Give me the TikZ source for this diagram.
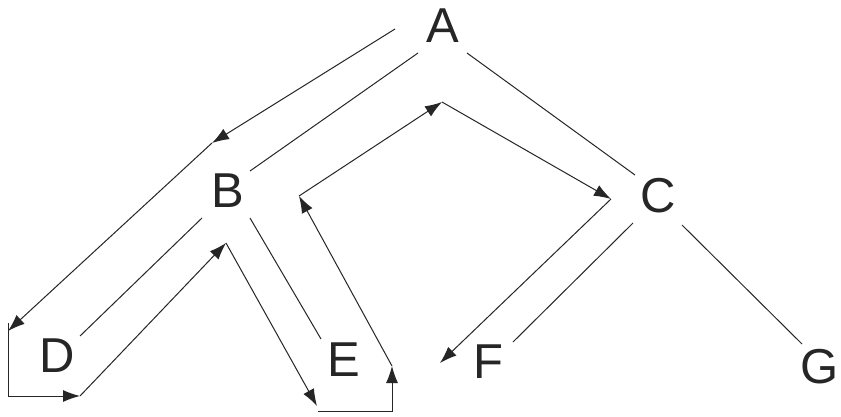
\documentclass[tikz,border=0pt]{standalone}
\usepackage{fontspec}
\setmainfont{Liberation Sans}
\usetikzlibrary{arrows.meta}
\begin{document}
\begin{tikzpicture}[x=1pt,y=-1pt,
  lbl/.style={inner sep=0pt,font=\fontsize{49}{49}\selectfont,text=black!85},
  edge/.style={line width=1pt,draw=black!85},
  arr/.style={line width=1pt,draw=black!85,-{Latex[length=17pt,width=12pt]}},
  seg/.style={line width=1pt,draw=black!85}]
\useasboundingbox[fill=white] (0,0) rectangle (841,416);
% nodes
\node[lbl] (A) at (443,26) {A};
\node[lbl] (B) at (228,191) {B};
\node[lbl] (C) at (658,196) {C};
\node[lbl] (D) at (57,356) {D};
\node[lbl] (E) at (344,360) {E};
\node[lbl] (F) at (488,362) {F};
\node[lbl] (G) at (820,367) {G};
% tree edge end points
\coordinate (ab1) at (418,53);  \coordinate (ab2) at (250,171);
\coordinate (ac1) at (467,53);  \coordinate (ac2) at (635,175);
\coordinate (bd1) at (202,218); \coordinate (bd2) at (80,336);
\coordinate (be1) at (250,218); \coordinate (be2) at (321,339);
\coordinate (cf1) at (633,223); \coordinate (cf2) at (513,342);
\coordinate (cg1) at (682,225); \coordinate (cg2) at (802,344);
\draw[edge] (ab1) -- (ab2);
\draw[edge] (ac1) -- (ac2);
\draw[edge] (bd1) -- (bd2);
\draw[edge] (be1) -- (be2);
\draw[edge] (cf1) -- (cf2);
\draw[edge] (cg1) -- (cg2);
% traversal path points
\coordinate (p1) at (395,29);
\coordinate (p2) at (212,143);
\coordinate (p3) at (8,331);
\coordinate (d1) at (8,323);
\coordinate (d2) at (8,396);
\coordinate (p4) at (80,396);
\coordinate (p5) at (226,243);
\coordinate (p6) at (317,406);
\coordinate (e1) at (318,411);
\coordinate (e2) at (392,411);
\coordinate (p7) at (392,366);
\coordinate (p8) at (299,196);
\coordinate (p9) at (442,102);
\coordinate (p10) at (611,199);
\coordinate (p11) at (440,363);
\draw[arr] (p1) -- (p2);
\draw[arr] (p2) -- (p3);
\draw[seg] (d1) -- (d2);
\draw[arr] (d2) -- (p4);
\draw[arr] (p4) -- (p5);
\draw[arr] (p5) -- (p6);
\draw[arr] (e1) -- (e2) -- (p7);
\draw[arr] (p7) -- (p8);
\draw[arr] (p8) -- (p9);
\draw[arr] (p9) -- (p10);
\draw[arr] (p10) -- (p11);
\end{tikzpicture}
\end{document}
